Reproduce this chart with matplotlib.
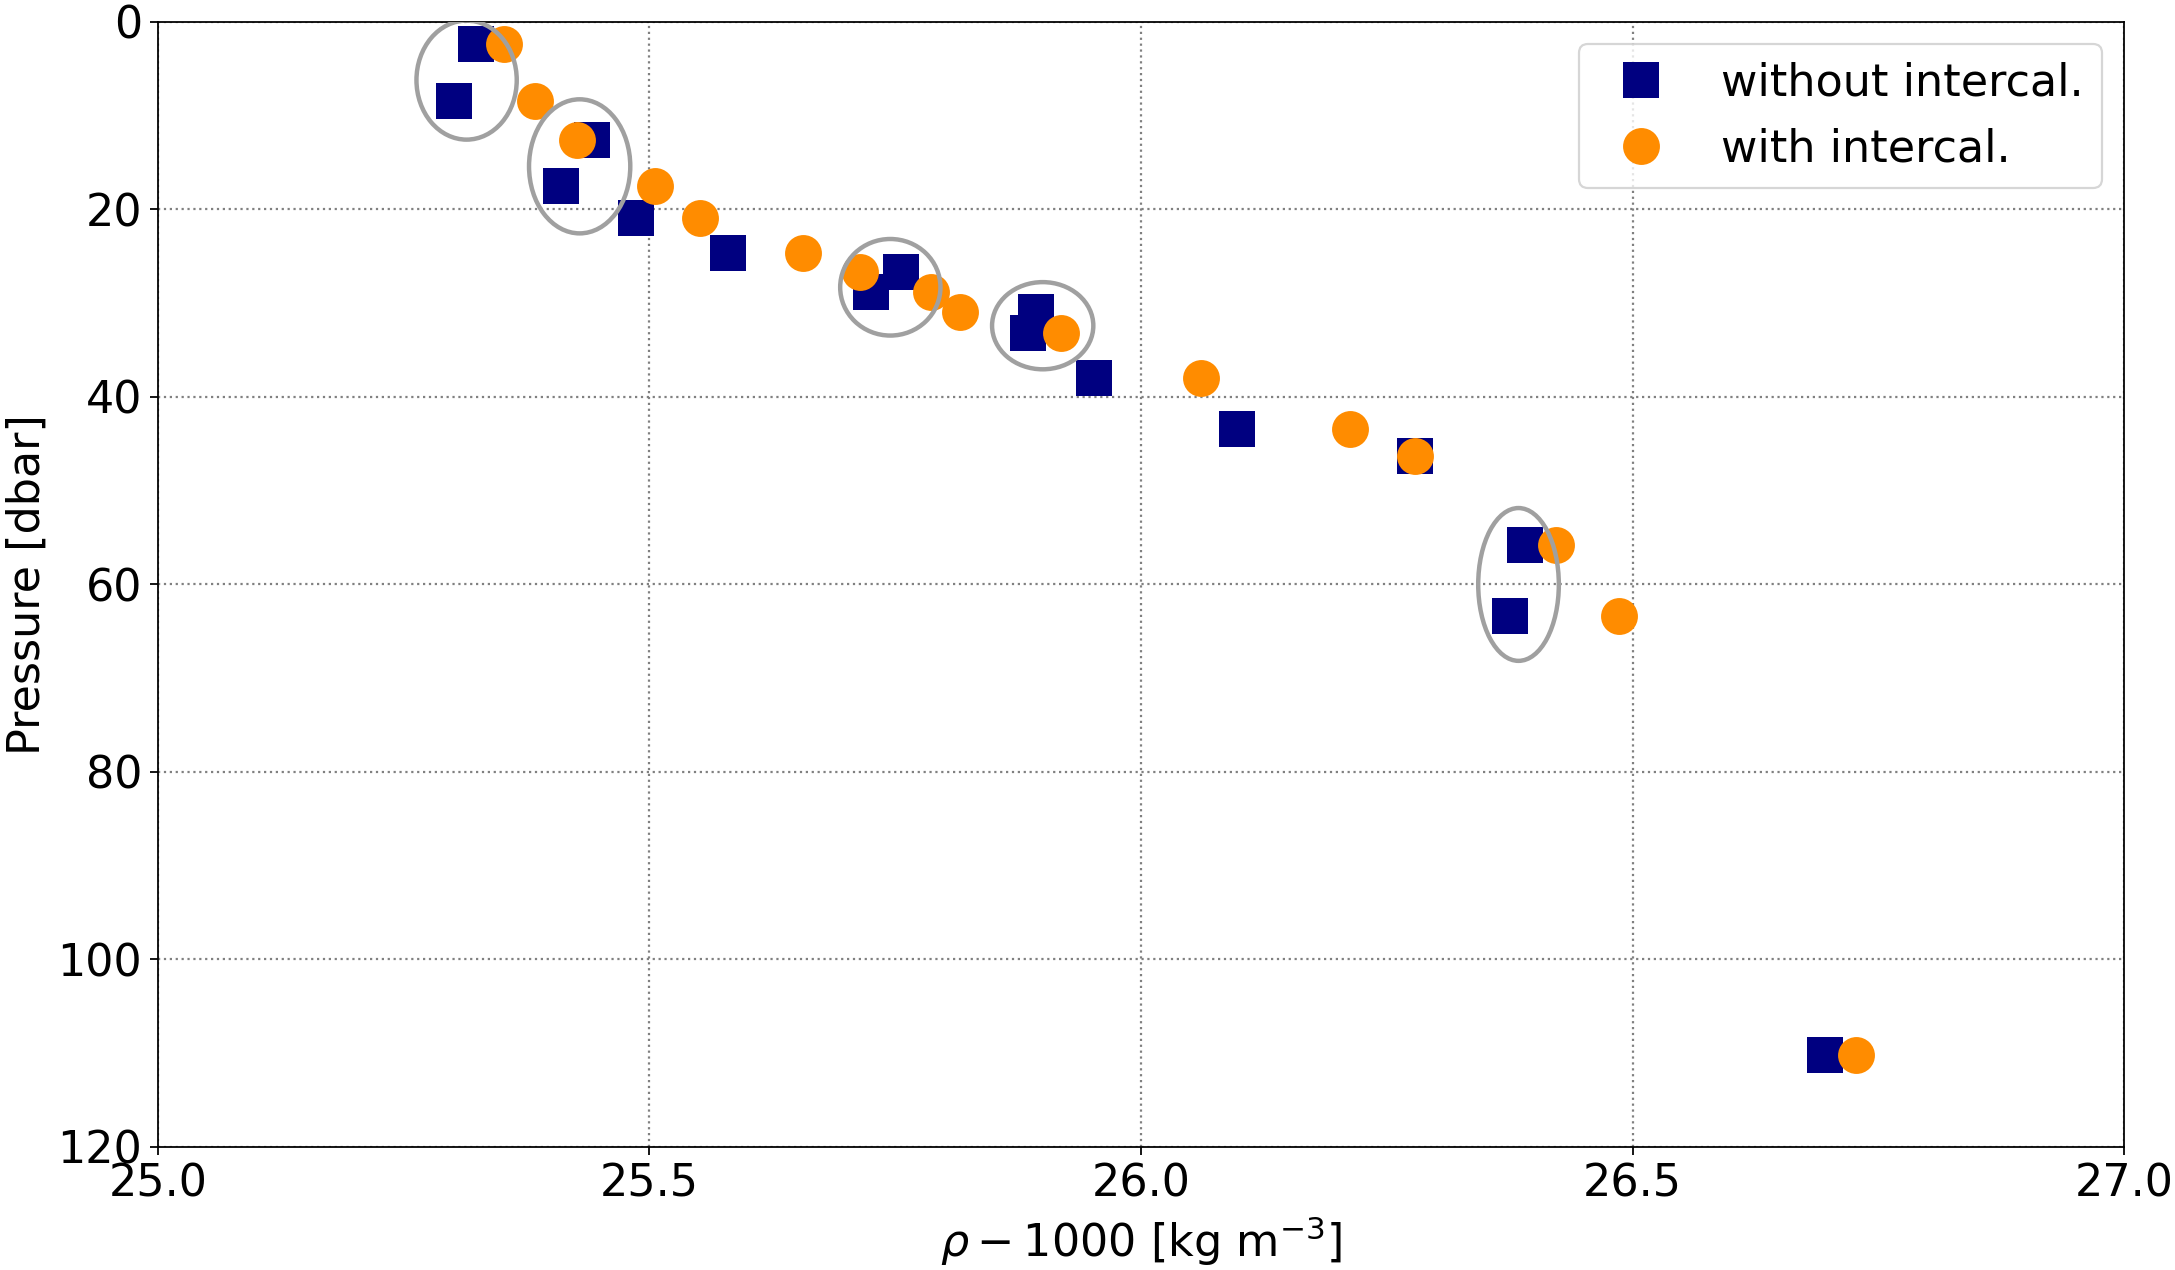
import numpy as np
import matplotlib
matplotlib.use("Agg")
import matplotlib.pyplot as plt
from matplotlib.patches import Ellipse

# pressure levels [dbar]
pres = [2.4, 8.4, 12.6, 17.5, 20.9, 24.6, 26.7, 28.8, 30.9, 33.2,
        38.0, 43.4, 46.3, 55.8, 63.4, 110.2]

# density anomaly, without and with intercalibration
rho_without = [25.324, 25.301, 25.442, 25.410, 25.486, 25.580, 25.756, 25.725,
               25.893, 25.885, 25.952, 26.098, 26.279, 26.391, 26.375, 26.696]
rho_with = [25.352, 25.384, 25.426, 25.506, 25.551, 25.656, 25.714, 25.786,
            25.816, 25.919, 26.061, 26.213, 26.279, 26.422, 26.486, 26.727]

# highlighted groups (centre x, centre y, width, height)
ell_x = [25.314, 25.429, 25.745, 25.900, 26.384]
ell_y = [6.2, 15.4, 28.3, 32.4, 60.0]
ell_w = [0.102, 0.103, 0.102, 0.103, 0.082]
ell_h = [12.7, 14.3, 10.3, 9.3, 16.3]

dpi = 160
fig = plt.figure(figsize=(2175 / dpi, 1270 / dpi), dpi=dpi)
ax = fig.add_axes([0.0726, 0.0969, 0.9040, 0.8858])

ax.plot(rho_without, pres, linestyle='none', marker='s', markersize=16.6,
        color='navy', markeredgewidth=0, label='without intercal.', zorder=2)
ax.plot(rho_with, pres, linestyle='none', marker='o', markersize=16.6,
        color='darkorange', markeredgewidth=0, label='with intercal.', zorder=3)

for x, y, w, h in zip(ell_x, ell_y, ell_w, ell_h):
    ax.add_patch(Ellipse((x, y), w, h, fill=False, edgecolor='#a0a0a0',
                         linewidth=2.0, zorder=4))

ax.set_xlim(25, 27)
ax.set_ylim(120, 0)
ax.set_xticks(np.arange(25, 27.01, 0.5))
ax.set_yticks(range(0, 121, 20))
ax.grid(True, color='gray', linestyle=':', linewidth=1.0)
ax.set_axisbelow(True)
ax.tick_params(labelsize=20)
ax.set_xlabel(r'$\rho - 1000$ [kg m$^{-3}$]', fontsize=20)
ax.set_ylabel('Pressure [dbar]', fontsize=20)
ax.legend(loc='upper right', fontsize=20)

fig.savefig('out.png', dpi=dpi)
